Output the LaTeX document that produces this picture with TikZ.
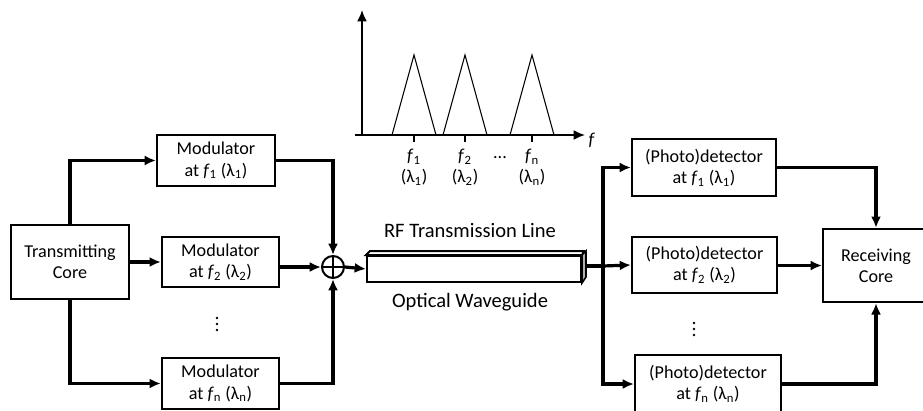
\documentclass[tikz,border=0pt]{standalone}
\usepackage{fontspec}
\setmainfont{Carlito}
\usepackage{tikz}
\usetikzlibrary{arrows.meta,positioning}
\definecolor{ink}{HTML}{000000}
\definecolor{wgside}{HTML}{B0B0B0}

\newcommand{\fsub}[1]{\textit{f}\textsubscript{#1}}
\newcommand{\lsub}[1]{(λ\textsubscript{#1})}

\begin{document}
\begin{tikzpicture}[x=0.75pt,y=-0.75pt,>={Latex[length=8.5pt,width=7.5pt]},
  font=\fontsize{13.6}{16}\selectfont,
  blk/.style={draw=ink,line width=1.5pt,align=center,inner sep=1pt},
  link/.style={->,line width=2.4pt},
  wire/.style={line width=2.4pt}]
\useasboundingbox (0,0) rectangle (923,410);

% blocks
\node[blk,minimum width=88.5pt,minimum height=55pt] (tc) at (70,262) {Transmitting\\Core};
\node[blk,minimum width=88.5pt,minimum height=38pt] (mod1) at (216,160.5) {Modulator\\at \fsub{1} \lsub{1}};
\node[blk,minimum width=88pt,minimum height=37.5pt] (mod2) at (220.5,262) {Modulator\\at \fsub{2} \lsub{2}};
\node[blk,minimum width=88pt,minimum height=38pt] (modn) at (220.5,383.5) {Modulator\\at \fsub{n} \lsub{n}};
\coordinate (dotl) at (217,324);
\foreach \k in {-6,0,6} \fill (dotl) ++(0,\k) circle (1.4);
\node[draw=ink,line width=1.5pt,circle,minimum size=16.5pt,inner sep=0pt] (sum) at (333,267) {};
\draw[line width=1.2pt] (sum.north) -- (sum.south) (sum.west) -- (sum.east);

% waveguide
\node[draw=ink,line width=1.5pt,minimum width=160.5pt,minimum height=19.5pt,inner sep=0pt] (wg) at (474,269) {};
\draw[line width=1.5pt,fill=white] (wg.north west) -- ++(4,-4) -- ++(214,0) -- (wg.north east) -- cycle;
\draw[line width=1.2pt,fill=wgside] (wg.north east) -- ++(4,-4) -- ++(0,26) -- (wg.south east) -- cycle;
\node[font=\fontsize{15.4}{18}\selectfont] (rf) at (470,231) {RF Transmission Line};
\node[font=\fontsize{15.4}{18}\selectfont] (ow) at (470,302) {Optical Waveguide};

\node[blk,minimum width=108pt,minimum height=42.75pt] (det1) at (704,167.5) {(Photo)detector\\at \fsub{1} \lsub{1}};
\node[blk,minimum width=108.75pt,minimum height=42pt] (det2) at (704.5,265) {(Photo)detector\\at \fsub{2} \lsub{2}};
\node[blk,minimum width=109.5pt,minimum height=43.5pt] (detn) at (708,384) {(Photo)detector\\at \fsub{n} \lsub{n}};
\coordinate (dotr) at (694,329);
\foreach \k in {-6,0,6} \fill (dotr) ++(0,\k) circle (1.4);
\node[blk,minimum width=79.5pt,minimum height=55pt] (rc) at (876,265.5) {Receiving\\Core};
\coordinate (bus) at (603,266);

% connectors
\draw[link] (tc.north) |- (mod1.west);
\draw[link] (tc.east) -- (mod2.west);
\draw[link] (tc.south) |- (modn.west);
\draw[link] (mod1.east) -| (sum.north);
\draw[link] (mod2.east |- sum.west) -- (sum.west);
\draw[link] (modn.east) -| (sum.south);
\draw[link] (sum.east) -- (wg.west);
\draw[wire] (wg.east |- bus) ++(4,0) -- (bus);
\draw[link] (bus) -- (det2.west);
\draw[link] (bus) |- (det1.west);
\draw[link] (bus) |- (detn.west);
\draw[link] (det1.east) -| (rc.north);
\draw[link] (det2.east |- rc.west) -- (rc.west);
\draw[link] (detn.east) -| (rc.south);

% spectrum
\coordinate (o) at (362,135);
\draw[->,line width=1.5pt] (355,135) -- (585,135);
\draw[->,line width=1.5pt] (o) -- (362,10);
\node[anchor=west,inner sep=1pt] (fax) at (587,140) {\textit{f}};
\foreach \pk/\nm in {414/1,465/2,532/n}{
  \draw[line width=0.8pt] (\pk-22,135) -- (\pk,55) -- (\pk+22,135);
  \draw[line width=0.8pt] (\pk,135) -- (\pk,142);
  \node[align=center,below=5pt of {(\pk,142)},inner sep=0pt] (lab\nm) {\fsub{\nm}\\\lsub{\nm}};
}
\node (sdots) at (500,158) {...};
\end{tikzpicture}
\end{document}
